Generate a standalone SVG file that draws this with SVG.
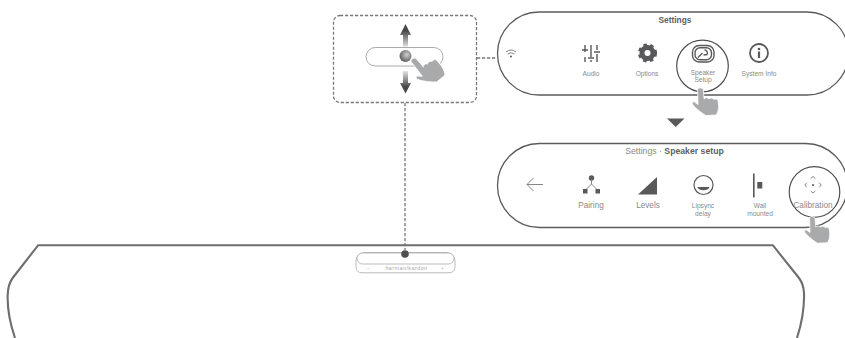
<svg xmlns="http://www.w3.org/2000/svg" width="845" height="338" viewBox="0 0 845 338">
<style>
text{font-family:"Liberation Sans",Arial,sans-serif;fill:#8a8a8c;text-anchor:middle}
.s{font-size:6.6px}.m{font-size:8.2px}
.t{font-size:8.4px;fill:#606062}
.pill{fill:#fff;stroke:#5b5b5d;stroke-width:1.3}
.ring{fill:none;stroke:#4f4f51;stroke-width:1.2}
.dash{fill:none;stroke:#77787a;stroke-width:1.3;stroke-dasharray:3.200 1.800}
.ic{fill:#59595b;stroke:none}
.il{fill:none;stroke:#59595b;stroke-width:1.400}
.il2{fill:none;stroke:#77787a;stroke-width:0.900}
</style>
<defs>
<linearGradient id="ug" x1="0" y1="0" x2="0" y2="1"><stop offset="0.300" stop-color="#48484a"/><stop offset="1" stop-color="#dcdcdd"/></linearGradient>
<linearGradient id="dg" x1="0" y1="1" x2="0" y2="0"><stop offset="0.300" stop-color="#48484a"/><stop offset="1" stop-color="#e4e4e5"/></linearGradient>
<radialGradient id="ball" cx="0.6" cy="0.4" r="0.7"><stop offset="0" stop-color="#d0d0d0"/><stop offset="1" stop-color="#4f4f51"/></radialGradient>
<path id="hand" d="M0 0.500C1 -1 4 -1 4.800 1L5.500 10.500C6.500 8.700 8.800 8.800 9.500 10.500C10.600 9 12.800 9.200 13.500 11C14.800 10 16.800 10.500 17.200 12.500L17.600 18C17.600 22 16.500 25 15.500 26.500L7 27C4 25 -1.500 20 -4 16C-4.800 14.500 -4 12.800 -2.500 13.500L0.500 16Z" fill="#a9aaac" stroke="#fff" stroke-width="0.700"/>
</defs>
<g id="connectors">
<path class="dash" d="M405 103V250"/>
<path class="dash" d="M477 58H497"/>
</g>
<g id="slider-callout">
<rect class="dash" x="333.500" y="15.500" width="143" height="87" rx="6.500"/>
<rect x="366" y="47.500" width="77" height="18.500" rx="9.200" fill="#fff" stroke="#a9aaac" stroke-width="1"/>
<path d="M405.500 24L411 35H408V46.500H403V35H400Z" fill="url(#ug)"/>
<path d="M405.500 93.500L411 83H408V71H403V83H400Z" fill="url(#dg)"/>
<circle cx="405.500" cy="56" r="6" fill="url(#ball)"/>
<use href="#hand" transform="translate(410.500 61) rotate(-36) scale(1.260 1.200)"/>
</g>
<g id="settings-panel">
<rect class="pill" x="497.500" y="12" width="351" height="83" rx="41.500"/>
<text class="t" x="675" y="23" style="font-weight:700">Settings</text>
<g id="wifi"><path class="il2" d="M506 52Q511 48 516 52M507.700 54Q511 51.500 514.300 54"/><circle class="ic" cx="511" cy="56.500" r="1"/></g>
<g id="audio"><path class="il" d="M585 45V52M585 57V62M591 45V57M591 60V62M597 45V50M597 54V62M582 50H588M588 58H594M594 52H600" stroke-width="1.400"/><text class="s" x="591" y="75.500">Audio</text></g>
<g id="options"><circle cx="647.500" cy="53" r="5.500" fill="none" stroke="#59595b" stroke-width="5"/><circle cx="647.500" cy="53" r="8.300" fill="none" stroke="#59595b" stroke-width="2.500" stroke-dasharray="3.500 3.450"/><text class="s" x="647" y="75.500">Options</text></g>
<g id="speaker-setup"><circle class="ring" cx="702.500" cy="66" r="25.800"/><rect class="il" x="692.500" y="45.500" width="21.500" height="16.500" rx="6.500"/><rect class="il" x="695" y="47.800" width="16.500" height="12" rx="5" stroke-width="1"/><path class="il" d="M698 57.500L702.500 53M704.500 50A3 3 0 0 1 707 54.500L703.500 55" stroke-width="1.300"/><text class="s" x="703" y="75">Speaker</text><text class="s" x="703" y="82">Setup</text></g>
<g id="system-info"><circle cx="759" cy="53" r="9" fill="none" stroke="#59595b" stroke-width="1.800"/><circle class="ic" cx="759" cy="49" r="1.300"/><rect class="ic" x="757.900" y="51.500" width="2.200" height="6.500"/><text class="s" x="759" y="75.500">System Info</text></g>
<use href="#hand" transform="translate(697.500 88.500) scale(1.200 1)"/>
</g>
<path id="next" d="M667 118.500H684.500L675.700 127Z" fill="#59595b"/>
<g id="speaker-setup-panel">
<rect class="pill" x="497.500" y="143.500" width="350" height="84" rx="42"/>
<text x="674.500" y="154" style="font-size:8.700px">Settings · <tspan style="font-weight:700;fill:#606062">Speaker setup</tspan></text>
<path class="il2" d="M543 184.500H527M533.500 178L527 184.500L533.500 191"/>
<g id="pairing"><circle class="ic" cx="591.500" cy="178" r="2.700"/><path class="il2" d="M591.500 179V184L585.500 190M591.500 184L597.500 190"/><rect class="ic" x="583" y="189" width="4.500" height="4.500"/><rect class="ic" x="595.500" y="189" width="4.500" height="4.500"/><text class="m" x="591" y="208">Pairing</text></g>
<g id="levels"><path class="ic" d="M638 194.500L657 177V194.500Z"/><text class="m" x="648" y="208">Levels</text></g>
<g id="lipsync"><circle cx="703.500" cy="185" r="9.500" fill="none" stroke="#59595b" stroke-width="1.200"/><path class="ic" d="M697.500 187H709.500A6 3.200 0 0 1 697.500 187Z"/><text class="s" x="703" y="208">Lipsync</text><text class="s" x="703" y="216">delay</text></g>
<g id="wall"><rect class="ic" x="753" y="173.500" width="1.600" height="24"/><rect class="ic" x="757.300" y="182" width="5" height="6.500"/><text class="s" x="760" y="208">Wall</text><text class="s" x="760" y="216">mounted</text></g>
<g id="calibration"><circle class="ring" cx="814.500" cy="192" r="25.300"/><circle class="ic" cx="813" cy="185" r="1"/><path class="il2" d="M810.700 178.500L813 176.500L815.300 178.500M810.700 191L813 193L815.300 191M806.800 182.700L804.800 185L806.800 187.300M819.200 182.700L821.200 185L819.200 187.300"/><text class="m" x="813" y="208">Calibration</text></g>
<use href="#hand" transform="translate(809.500 217) scale(1.150 0.970)"/>
</g>
<g id="soundbar">
<path d="M15 338C9.500 322 7 306 7.800 293C8.200 286 10 281.500 13 277.500L38.200 245.200H772.800L799 278C802 282 803.700 287 804 293C804.500 308 801.500 324 797 338" fill="none" stroke="#6d6e70" stroke-width="2.100"/>
</g>
<g id="control-unit">
<path d="M366 252.500H445C450 252.500 454 255 454.800 259C455.300 264 455.300 268 454 270.500C453 272 451 272.800 448 272.800H363C360 272.800 358 272 357 270.500C355.700 268 355.700 264 356.200 259C357 255 361 252.500 366 252.500Z" fill="#fff" stroke="#a9aaac" stroke-width="0.800"/>
<rect x="357" y="253" width="97" height="11" rx="5.500" fill="#fff" stroke="#a9aaac" stroke-width="0.800"/>
<text x="406.500" y="270" style="font-size:5.300px;letter-spacing:0.500px;fill:#a5a5a7">harman/kardon</text>
<path d="M367 268.500H370M441 268.500H444M442.500 267V270" stroke="#c5c5c6" stroke-width="0.500"/>
<circle cx="405" cy="254" r="3.800" fill="#4f4f51"/>
</g>
</svg>
